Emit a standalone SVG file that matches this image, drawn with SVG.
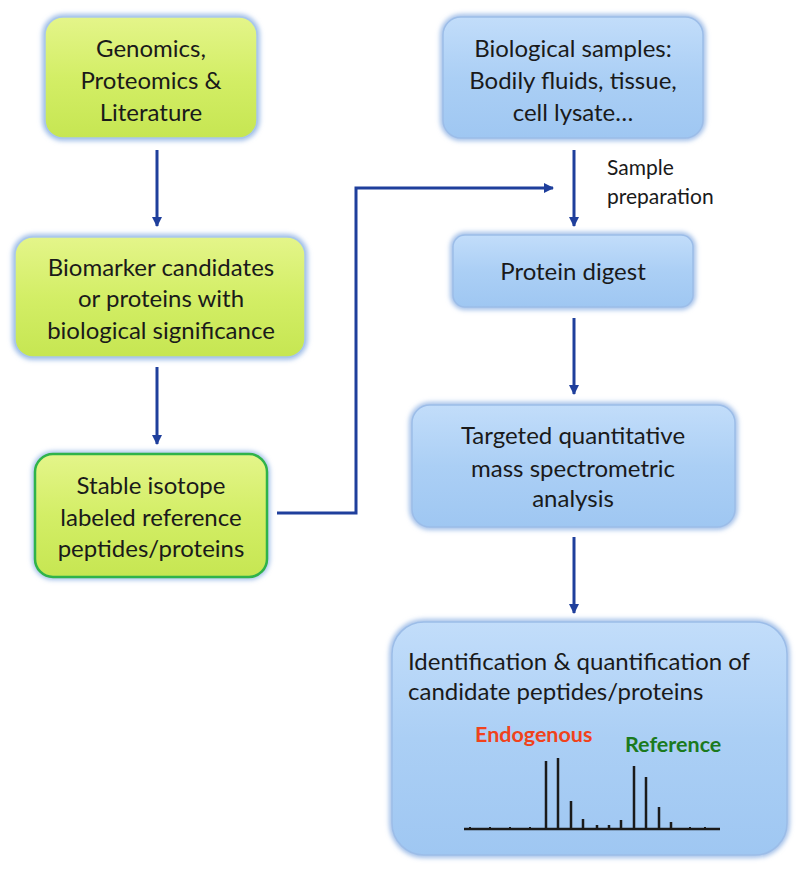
<svg xmlns="http://www.w3.org/2000/svg" width="800" height="872" viewBox="0 0 800 872">
<defs>
<linearGradient id="gGreen" x1="0" y1="0" x2="0" y2="1">
<stop offset="0" stop-color="#e4f58a"/>
<stop offset="0.5" stop-color="#d3ee66"/>
<stop offset="1" stop-color="#c6e652"/>
</linearGradient>
<linearGradient id="gBlue" x1="0" y1="0" x2="0" y2="1">
<stop offset="0" stop-color="#c2ddfa"/>
<stop offset="0.5" stop-color="#abcff5"/>
<stop offset="1" stop-color="#9fc7f2"/>
</linearGradient>
<filter id="glow" x="-10%" y="-10%" width="120%" height="125%">
<feGaussianBlur stdDeviation="2.5"/>
</filter>
<marker id="arr" viewBox="0 0 10 10" refX="9" refY="5" markerWidth="10" markerHeight="10" markerUnits="userSpaceOnUse" orient="auto">
<path d="M0,0 L10,5 L0,10 z" fill="#1f3f9c"/>
</marker>
</defs>
<style>
.t{font-family:Lato,"Liberation Sans",sans-serif;font-size:24px;fill:#1a1a1a;text-anchor:middle}
.s{font-family:Lato,"Liberation Sans",sans-serif;font-size:21px;fill:#1a1a1a}
.lbl{font-family:Lato,"Liberation Sans",sans-serif;font-size:21.5px;font-weight:bold}
.halo{fill:none;stroke:#8fb2e4;stroke-width:5;filter:url(#glow)}
.gb{fill:url(#gGreen);stroke:#a9c7ea;stroke-width:1.5}
.bb{fill:url(#gBlue);stroke:#9cbde8;stroke-width:1.5}
.c{fill:none;stroke:#1f3f9c;stroke-width:3}
.sp{fill:none;stroke:#1a1a1a;stroke-width:2.5}
</style>
<rect width="800" height="872" fill="#ffffff"/>

<g id="n-genomics">
<rect class="halo" x="45" y="17" width="212" height="121" rx="18"/>
<rect class="gb" x="45" y="17" width="212" height="121" rx="18"/>
<text class="t" x="151" y="57">Genomics,</text>
<text class="t" x="151" y="89">Proteomics &amp;</text>
<text class="t" x="151" y="121">Literature</text>
</g>

<g id="n-biomarker">
<rect class="halo" x="15" y="237" width="290" height="120" rx="18"/>
<rect class="gb" x="15" y="237" width="290" height="120" rx="18"/>
<text class="t" x="161" y="276">Biomarker candidates</text>
<text class="t" x="161" y="307">or proteins with</text>
<text class="t" x="161" y="339">biological significance</text>
</g>

<g id="n-stable">
<rect class="halo" x="35" y="454" width="232" height="123" rx="18"/>
<rect x="35" y="454" width="232" height="123" rx="18" fill="url(#gGreen)" stroke="#2fb34a" stroke-width="2.5"/>
<text class="t" x="151" y="494">Stable isotope</text>
<text class="t" x="151" y="526">labeled reference</text>
<text class="t" x="151" y="557">peptides/proteins</text>
</g>

<g id="n-samples">
<rect class="halo" x="443" y="17" width="260" height="121" rx="18"/>
<rect class="bb" x="443" y="17" width="260" height="121" rx="18"/>
<text class="t" x="573" y="57">Biological samples:</text>
<text class="t" x="573" y="89">Bodily fluids, tissue,</text>
<text class="t" x="573" y="121">cell lysate…</text>
</g>

<g id="n-digest">
<rect class="halo" x="453" y="235" width="240" height="72" rx="12"/>
<rect class="bb" x="453" y="235" width="240" height="72" rx="12"/>
<text class="t" x="573" y="280">Protein digest</text>
</g>

<g id="n-targeted">
<rect class="halo" x="412" y="405" width="323" height="122" rx="18"/>
<rect class="bb" x="412" y="405" width="323" height="122" rx="18"/>
<text class="t" x="573" y="444">Targeted quantitative</text>
<text class="t" x="573" y="477">mass spectrometric</text>
<text class="t" x="573" y="507">analysis</text>
</g>

<g id="n-ident">
<rect class="halo" x="392" y="622" width="395" height="233" rx="32"/>
<rect class="bb" x="392" y="622" width="395" height="233" rx="32"/>
<text class="t" x="408" y="670" style="text-anchor:start">Identification &amp; quantification of</text>
<text class="t" x="408" y="700" style="text-anchor:start">candidate peptides/proteins</text>
<text class="lbl" x="475" y="742" fill="#f0421c">Endogenous</text>
<text class="lbl" x="625" y="752" fill="#1b7a1e">Reference</text>
<path class="sp" d="M464,829 L720,829"/>
<path class="sp" d="M546,829 L546,761 M558,829 L558,758 M571,829 L571,801 M583,829 L583,819 M597,829 L597,825 M609,829 L609,825 M621,829 L621,820 M634,829 L634,766 M646,829 L646,777 M659,829 L659,807 M671,829 L671,822"/>
<path d="M470,829 L470,827 M490,829 L490,827 M510,829 L510,827 M530,829 L530,827 M690,829 L690,827 M705,829 L705,827" stroke="#1a1a1a" stroke-width="2"/>
</g>

<g id="connectors">
<path class="c" d="M157,150 L157,226" marker-end="url(#arr)"/>
<path class="c" d="M157,367 L157,444" marker-end="url(#arr)"/>
<path class="c" d="M277,513 L356,513 L356,188 L553,188" marker-end="url(#arr)"/>
<path class="c" d="M574,150 L574,226" marker-end="url(#arr)"/>
<path class="c" d="M574,318 L574,394" marker-end="url(#arr)"/>
<path class="c" d="M574,537 L574,613" marker-end="url(#arr)"/>
<text class="s" x="607" y="175">Sample</text>
<text class="s" x="607" y="204">preparation</text>
</g>
</svg>
